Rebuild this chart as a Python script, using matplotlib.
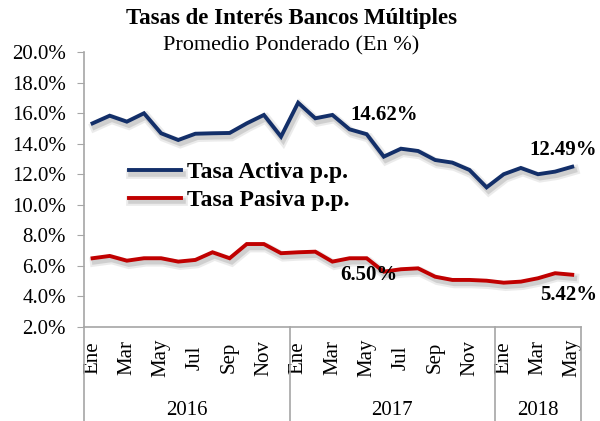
import matplotlib
matplotlib.use("Agg")
import matplotlib.pyplot as plt
import matplotlib.patheffects as pe
import numpy as np

plt.rcParams['font.family'] = ['Liberation Serif', 'DejaVu Serif']

meses = ['Ene', 'Feb', 'Mar', 'Abr', 'May', 'Jun', 'Jul', 'Ago', 'Sep', 'Oct', 'Nov', 'Dic',
         'Ene', 'Feb', 'Mar', 'Abr', 'May', 'Jun', 'Jul', 'Ago', 'Sep', 'Oct', 'Nov', 'Dic',
         'Ene', 'Feb', 'Mar', 'Abr', 'May']
anios = ['2016', '2017', '2018']
meses_por_anio = [12, 12, 5]

# Tasa activa promedio ponderado (%)
activa = [15.33, 15.83, 15.44, 15.99, 14.68, 14.24, 14.65, 14.68, 14.70, 15.33, 15.88, 14.46,
          16.68, 15.66, 15.88, 14.94, 14.62, 13.15, 13.67, 13.52, 12.93, 12.76, 12.28, 11.14,
          12.00, 12.41, 12.00, 12.17, 12.49]
# Tasa pasiva promedio ponderado (%)
pasiva = [6.50, 6.65, 6.34, 6.50, 6.50, 6.28, 6.39, 6.89, 6.50, 7.43, 7.43, 6.83,
          6.89, 6.93, 6.28, 6.50, 6.50, 5.62, 5.78, 5.84, 5.29, 5.08, 5.08, 5.03,
          4.90, 4.97, 5.19, 5.52, 5.42]

azul = '#132F69'
rojo = '#C00000'
gris = '#A6A6A6'

fig = plt.figure(figsize=(6, 4.21), dpi=100)
ax = fig.add_axes([0.14, 0.2233, 0.828, 0.6532])

x = np.arange(len(activa))
# sombra suave bajo las lineas
sombra = [pe.SimpleLineShadow(offset=(1.5, -2.5), shadow_color='#7f7f7f', alpha=0.15, linewidth=7),
          pe.SimpleLineShadow(offset=(1.5, -2.5), shadow_color='#7f7f7f', alpha=0.25, linewidth=4),
          pe.Normal()]
ax.plot(x, activa, color=azul, lw=2.8, solid_joinstyle='miter', path_effects=sombra,
        label='Tasa Activa p.p.')
ax.plot(x, pasiva, color=rojo, lw=2.8, solid_joinstyle='miter', path_effects=sombra,
        label='Tasa Pasiva p.p.')

ax.set_xlim(-0.5, len(activa) - 0.5)
ax.set_ylim(2, 20)
yt = np.arange(2, 20.1, 2)
ax.set_yticks(yt)
ax.set_yticklabels([f'{v:.1f}%' for v in yt], fontsize=15)
ax.tick_params(axis='y', direction='out', length=5, color=gris, pad=8)

pos = [i for i in range(len(meses)) if i % 2 == 0]
ax.set_xticks(pos)
ax.set_xticklabels([meses[i] for i in pos], rotation=90, fontsize=15, va='center')
ax.tick_params(axis='x', length=0, pad=22)

for s in ['top', 'right']:
    ax.spines[s].set_visible(False)
for s in ['left', 'bottom']:
    ax.spines[s].set_color(gris)
    ax.spines[s].set_linewidth(1.2)

# eje de categorias de dos niveles
trans = ax.get_xaxis_transform()
bordes = np.concatenate([[0], np.cumsum(meses_por_anio)]) - 0.5
for b in bordes:
    ax.plot([b, b], [0, -0.36], color=gris, lw=1.2, transform=trans, clip_on=False)
for k, a in enumerate(anios):
    ax.text((bordes[k] + bordes[k + 1]) / 2, -0.305, a, transform=trans,
            ha='center', va='center', fontsize=15)

# etiquetas de valores
ax.text(17.0, 15.9, f'{activa[16]:.2f}%', fontsize=15, fontweight='bold', ha='center', va='center')
ax.text(29.45, 13.6, f'{activa[28]:.2f}%', fontsize=15, fontweight='bold', ha='right', va='center')
ax.text(16.1, 5.4, f'{pasiva[16]:.2f}%', fontsize=15, fontweight='bold', ha='center', va='center')
ax.text(29.45, 4.1, f'{pasiva[28]:.2f}%', fontsize=15, fontweight='bold', ha='right', va='center')

ax.legend(loc='upper left', bbox_to_anchor=(0.072, 0.635), frameon=False,
          prop={'weight': 'bold', 'size': 17}, handlelength=2.2, handletextpad=0.25,
          labelspacing=0.25, borderaxespad=0)

fig.text(0.486, 0.955, 'Tasas de Interés Bancos Múltiples', ha='center', va='center',
         fontsize=16.5, fontweight='bold')
fig.text(0.486, 0.89, 'Promedio Ponderado (En %)', ha='center', va='center', fontsize=16)

fig.savefig('out.png', dpi=100)
